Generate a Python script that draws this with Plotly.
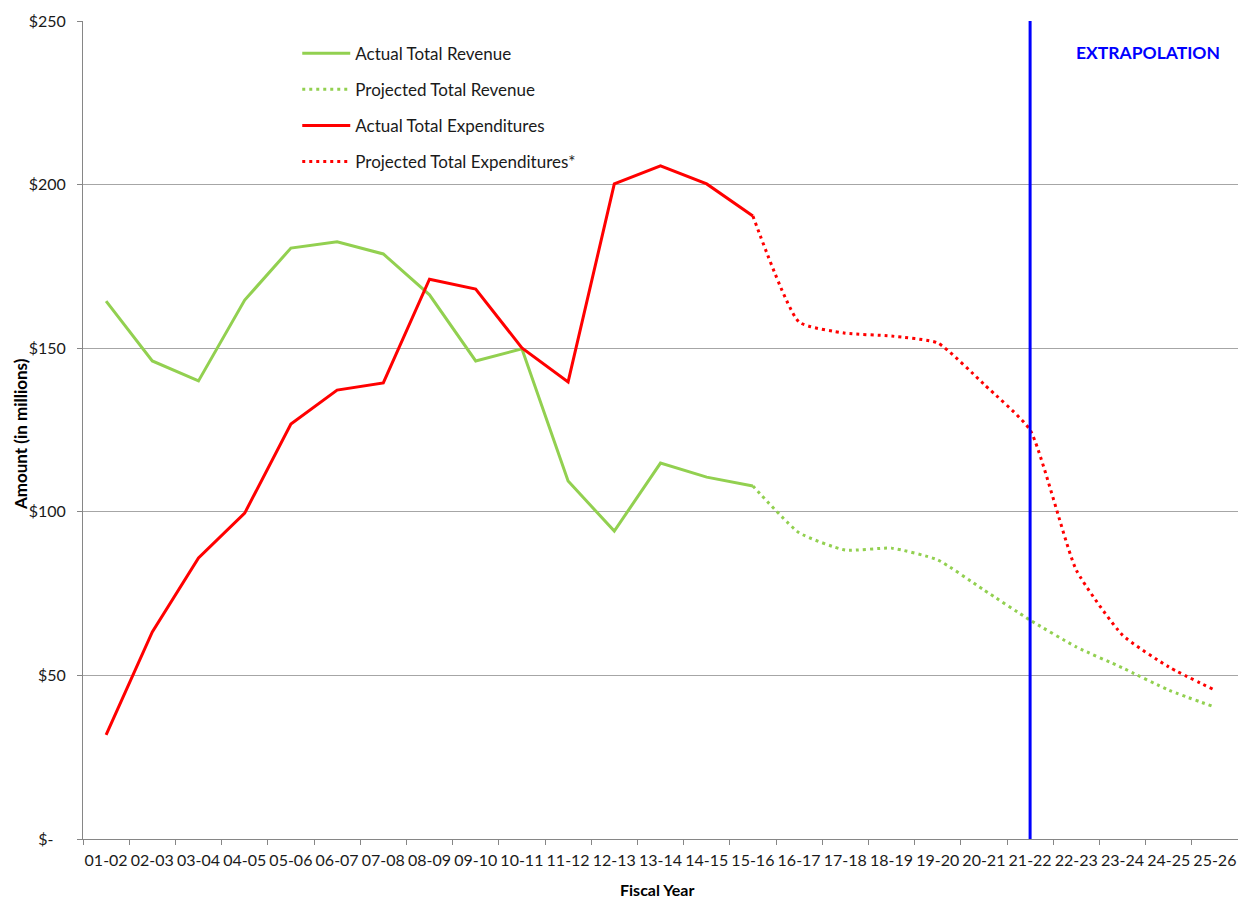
import plotly.graph_objects as go

# Fiscal years on the category axis
years = ["01-02", "02-03", "03-04", "04-05", "05-06", "06-07", "07-08", "08-09",
         "09-10", "10-11", "11-12", "12-13", "13-14", "14-15", "15-16", "16-17",
         "17-18", "18-19", "19-20", "20-21", "21-22", "22-23", "23-24", "24-25", "25-26"]

# Amounts in millions of dollars
actual_revenue = [164.4, 146.1, 140.0, 164.7, 180.6, 182.5, 178.8, 166.3, 146.1, 149.8,
                  109.4, 94.1, 114.9, 110.6, 107.9]
projected_revenue = [107.9, 93.6, 88.3, 88.9, 85.3, 76.1, 66.9, 58.7, 52.3, 45.5, 40.3]

actual_expend = [31.8, 63.3, 85.9, 99.6, 126.8, 137.2, 139.4, 171.1, 168.1, 150.1,
                 139.7, 200.2, 205.7, 200.2, 190.4]
projected_expend = [190.4, 158.0, 154.6, 153.7, 151.6, 139.0, 125.0, 82.2, 62.3, 52.6, 45.5]

extrapolation_start = "21-22"

y_ticks = [0, 50, 100, 150, 200, 250]
y_tick_text = ["$-\u00a0\u00a0\u00a0", "$50", "$100", "$150", "$200", "$250"]

GREEN = "#92D050"
RED = "#FF0000"
BLUE = "#0000FF"
TEXT = "#1a1a1a"
FONT = "Lato"

n_act = len(actual_revenue)
proj_years = years[n_act - 1:]

fig = go.Figure()
fig.add_trace(go.Scatter(x=years[:n_act], y=actual_revenue, mode="lines",
                         name="Actual Total Revenue", legendgroup="a",
                         line=dict(color=GREEN, width=3)))
fig.add_trace(go.Scatter(x=proj_years, y=projected_revenue, mode="lines",
                         name="Projected Total Revenue", legendgroup="b",
                         line=dict(color=GREEN, width=3, dash="3px,4px",
                                   shape="spline", smoothing=0.5)))
fig.add_trace(go.Scatter(x=years[:n_act], y=actual_expend, mode="lines",
                         name="Actual Total Expenditures", legendgroup="c",
                         line=dict(color=RED, width=3)))
fig.add_trace(go.Scatter(x=proj_years, y=projected_expend, mode="lines",
                         name="Projected Total Expenditures*", legendgroup="d",
                         line=dict(color=RED, width=3, dash="3px,4px",
                                   shape="spline", smoothing=0.5)))

# Vertical marker where extrapolation begins
fig.add_shape(type="line", xref="x", yref="y",
              x0=extrapolation_start, x1=extrapolation_start, y0=0, y1=250,
              line=dict(color=BLUE, width=3))

fig.add_annotation(text="<b>EXTRAPOLATION</b>", xref="paper", yref="paper",
                   x=0.922, y=0.961, showarrow=False, xanchor="center", yanchor="middle",
                   font=dict(family=FONT, size=17.5, color=BLUE))

fig.add_annotation(text="<b>Amount (in millions)</b>", xref="paper", yref="paper",
                   x=0, y=0.495, xshift=-63, showarrow=False, textangle=-90,
                   xanchor="center", yanchor="middle",
                   font=dict(family=FONT, size=17, color="#000000"))
fig.add_annotation(text="<b>Fiscal Year</b>", xref="paper", yref="paper",
                   x=0.497, y=0, yshift=-50, showarrow=False,
                   xanchor="center", yanchor="middle",
                   font=dict(family=FONT, size=16, color="#000000"))

fig.update_layout(
    width=1238, height=898,
    margin=dict(l=83, r=0, t=21, b=59),
    paper_bgcolor="white", plot_bgcolor="white",
    font=dict(family=FONT, size=16, color=TEXT),
    showlegend=True,
    legend=dict(x=0.1855, y=0.982, xanchor="left", yanchor="top",
                bgcolor="rgba(0,0,0,0)", tracegroupgap=11,
                font=dict(family=FONT, size=17, color=TEXT),
                itemwidth=48),
)
fig.update_xaxes(type="category", range=[-0.5, len(years) - 0.5],
                 categoryorder="array", categoryarray=years,
                 showgrid=False, showline=True, linecolor="#868686", linewidth=1,
                 ticks="outside", tickson="boundaries", ticklen=5, tickcolor="#868686",
                 tickangle=0, automargin=False, ticklabelstandoff=7,
                 tickfont=dict(family=FONT, size=16, color=TEXT))
fig.update_yaxes(range=[0, 250], tickvals=y_ticks, ticktext=y_tick_text,
                 showgrid=True, gridcolor="#A6A6A6", gridwidth=1,
                 showline=True, linecolor="#868686", linewidth=1,
                 ticks="outside", ticklen=5, tickcolor="#868686",
                 zeroline=False, automargin=False, ticklabelstandoff=8,
                 tickfont=dict(family=FONT, size=16, color=TEXT))

fig.write_html("out.html")
